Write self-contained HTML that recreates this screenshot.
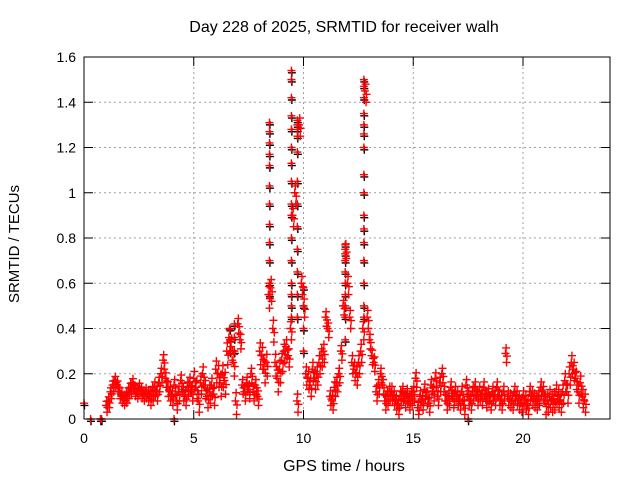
<!DOCTYPE html>
<html><head><meta charset="utf-8"><style>
body{margin:0;background:#fff;}
svg{display:block;font-family:"Liberation Sans",sans-serif;}
</style></head><body>
<svg id="chart" width="640" height="480">
<rect width="640" height="480" fill="#fff"/>
<text x="344" y="32" font-size="16" text-anchor="middle">Day 228 of 2025, SRMTID for receiver walh</text>
<text x="344" y="471" font-size="16" text-anchor="middle">GPS time / hours</text>
<text transform="translate(19,244) rotate(-90)" font-size="15" text-anchor="middle">SRMTID / TECUs</text>
<g id="grid"></g><g id="ticks"></g><g id="black"></g><g id="red"></g>
<rect x="84" y="57" width="526" height="362" fill="none" stroke="#000" stroke-width="1"/>
</svg>
<script>
const xTicks=[0,5,10,15,20];
const yTicks=[0,0.2,0.4,0.6,0.8,1,1.2,1.4,1.6];
const yTickLabels=["0","0.2","0.4","0.6","0.8","1","1.2","1.4","1.6"];
const baseStart=1.0;
const baseValues=[0.06,0.08,0.12,0.15,0.17,0.15,0.12,0.1,0.09,0.1,
0.12,0.14,0.16,0.13,0.12,0.14,0.12,0.11,0.12,0.11,
0.1,0.12,0.14,0.12,0.16,0.2,0.26,0.18,0.14,0.12,
0.1,0.15,0.08,0.12,0.17,0.12,0.1,0.14,0.16,0.12,
0.18,0.14,0.08,0.16,0.2,0.14,0.1,0.12,0.15,0.11,
0.22,0.2,0.16,0.2,0.17,0.3,0.36,0.32,0.25,0.08,
0.42,0.35,0.15,0.12,0.16,0.13,0.2,0.12,0.15,0.1,
0.3,0.28,0.22,0.25,0.55,0.58,0.4,0.25,0.18,0.22,
0.26,0.3,0.32,0.28,0.4,0.9,1.0,0.08,1.3,0.6,
0.5,0.2,0.18,0.15,0.22,0.18,0.2,0.25,0.28,0.3,
0.45,0.4,0.1,0.08,0.14,0.16,0.2,0.3,0.5,0.75,
0.6,0.45,0.25,0.22,0.2,0.25,0.3,0.4,1.45,0.45,
0.35,0.28,0.25,0.12,0.15,0.2,0.15,0.08,0.1,0.12,
0.12,0.1,0.08,0.06,0.1,0.12,0.09,0.11,0.08,0.1,
0.12,0.18,0.05,0.1,0.08,0.13,0.1,0.07,0.15,0.12,
0.18,0.1,0.16,0.2,0.12,0.08,0.1,0.14,0.09,0.12,
0.1,0.08,0.12,0.06,0.15,0.1,0.08,0.12,0.14,0.1,
0.12,0.1,0.14,0.09,0.11,0.08,0.12,0.1,0.14,0.1,
0.08,0.12,0.29,0.1,0.09,0.08,0.12,0.1,0.08,0.07,
0.1,0.08,0.06,0.12,0.1,0.09,0.08,0.1,0.14,0.12,
0.07,0.08,0.1,0.08,0.09,0.12,0.1,0.08,0.12,0.17,
0.12,0.2,0.25,0.22,0.18,0.12,0.16,0.1,0.08];
const baseSpread=[0.03,0.03,0.03,0.04,0.04,0.05,0.06,0.04,0.06,0.05,0.05,0.04,0.05,0.04,0.04,0.04,0.04,0.04,0.04,0.04,0.04,0.05];
const extraTimes=[0,0.3,0.75,0.8,4.1,17.5,
8.45,8.45,8.45,8.45,8.45,8.45,8.45,8.45,8.45,8.45,8.45,8.45,
9.45,9.45,9.45,9.45,9.45,9.45,9.45,9.45,9.45,9.45,9.45,9.45,9.45,9.45,9.45,9.45,
9.72,9.72,9.72,9.72,9.72,9.72,9.72,9.72,9.72,9.72,9.72,9.72,
10.0,10.0,10.0,10.0,
11.9,11.9,11.9,11.9,11.9,11.9,11.9,11.9,11.9,
12.75,12.75,12.75,12.75,12.75,12.75,12.75,12.75,12.75,12.75,12.75,12.75,12.75,12.75,12.75,12.75,
6.65,6.65,6.65,6.85,6.85,6.85];
const extraValues=[0.07,0,0,0,0,0,
0.55,0.6,0.7,0.78,0.86,0.95,1.03,1.12,1.17,1.22,1.27,1.31,
0.45,0.5,0.55,0.6,0.7,0.8,0.9,0.95,1.05,1.13,1.2,1.28,1.34,1.42,1.5,1.54,
0.45,0.55,0.65,0.75,0.85,0.95,1.05,1.18,1.25,1.28,1.3,1.32,
0.3,0.4,0.5,0.58,
0.35,0.45,0.5,0.55,0.6,0.65,0.7,0.73,0.77,
0.45,0.5,0.6,0.7,0.78,0.84,0.9,1.0,1.08,1.2,1.26,1.3,1.35,1.42,1.47,1.5,
0.3,0.35,0.4,0.3,0.36,0.42];
const X=t=>84+t*21.95, Y=v=>419-v*226.25;
const NS="http://www.w3.org/2000/svg";
function mk(tag,a,p){const e=document.createElementNS(NS,tag);for(const k in a)e.setAttribute(k,a[k]);p.appendChild(e);return e;}
const grid=document.getElementById('grid'),ticks=document.getElementById('ticks');
yTicks.forEach((v,i)=>{const y=Y(v);
 if(i>0&&i<yTicks.length-1){const g=mk('line',{x1:84,x2:610,y1:y,y2:y,stroke:'#a0a0a0','stroke-dasharray':'2,3'},grid);
 
 }
 mk('line',{x1:84,x2:93,y1:y,y2:y,stroke:'#000'},ticks);mk('line',{x1:601,x2:610,y1:y,y2:y,stroke:'#000'},ticks);
 const t=mk('text',{x:76,y:y+5,'font-size':14,'text-anchor':'end'},ticks);t.textContent=yTickLabels[i];
 
 });
xTicks.forEach(v=>{const x=X(v);
 if(v>0){const g=mk('line',{x1:x,x2:x,y1:57,y2:419,stroke:'#a0a0a0','stroke-dasharray':'2,3'},grid);
 
 }
 mk('line',{x1:x,x2:x,y1:410,y2:419,stroke:'#000'},ticks);mk('line',{x1:x,x2:x,y1:57,y2:66,stroke:'#000'},ticks);
 const t=mk('text',{x:x,y:443,'font-size':14,'text-anchor':'middle'},ticks);t.textContent=String(v);
 
 });
const red=document.getElementById('red'),black=document.getElementById('black');
function plus(t,v,g,c,name){const x=X(t),y=Y(v);
 const p=mk('path',{d:`M${x-4},${y}h8M${x},${y-4}v8`,stroke:c,'stroke-width':1.4},g);
 
 }
baseValues.forEach((v,i)=>{const t=baseStart+i*0.1;const s=baseSpread[Math.min(baseSpread.length-1,Math.floor(t))];
 plus(t,v,red,'#f00','srmtid-point');
 plus(t+0.05,Math.max(0.02,v-s),red,'#f00','srmtid-point');
 plus(t+0.03,v+s*0.6,red,'#f00','srmtid-point');
 plus(t+0.07,v-s*0.3,red,'#f00','srmtid-point');});
extraTimes.forEach((t,i)=>{plus(t+0.02,extraValues[i]-0.01,black,'#000','srmtid-point-alt');plus(t,extraValues[i],red,'#f00','srmtid-point');});
</script>
</body></html>
